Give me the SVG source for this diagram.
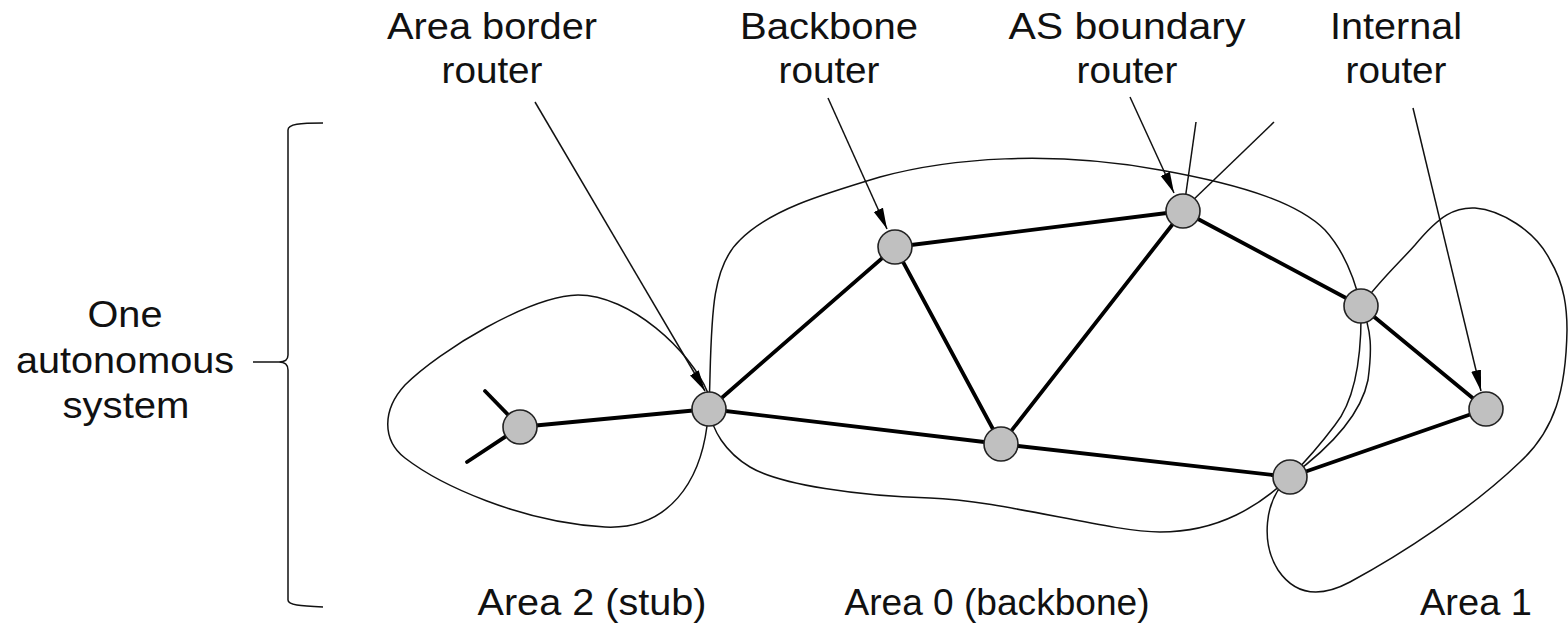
<svg xmlns="http://www.w3.org/2000/svg" width="1568" height="626" viewBox="0 0 1568 626">
<style>
.lbl{font-family:"Liberation Sans",Arial,Helvetica,sans-serif;font-size:37px;fill:#111;text-anchor:middle}
.area{fill:none;stroke:#111;stroke-width:1.5}
.edge{stroke:#000;stroke-width:3.8;stroke-linecap:round;fill:none}
.thin{stroke:#111;stroke-width:1.5;fill:none}
.arrow{stroke:#111;stroke-width:1.5;fill:none;marker-end:url(#ah)}
.node{fill:#c0c0c0;stroke:#222;stroke-width:1.6}
</style>
<defs>
<marker id="ah" markerUnits="userSpaceOnUse" markerWidth="24" markerHeight="14" refX="21" refY="7" orient="auto">
<path d="M0,2 L21,7 L0,12 z" fill="#000"/>
</marker>
</defs>
<rect width="1568" height="626" fill="#fff"/>

<g id="areas">
<path id="area2" class="area" d="M708,393 C690,350 630,295 578,295 C530,296 440,350 405,385 C382,410 382,440 405,458 C440,485 520,522 605,527 C670,530 700,480 707,426"/>
<path id="area0" class="area" d="M709,409 C712,330 708,270 740,240 C770,210 820,195 880,177 C950,158 1050,150 1160,170 C1250,186 1300,205 1325,230 C1345,252 1355,280 1361,306 C1362,360 1355,400 1335,425 C1320,445 1305,462 1290,477 C1260,505 1220,532 1160,532 C1110,532 1000,500 930,498 C860,496 780,485 750,467 C725,452 712,430 709,409 Z"/>
<path id="area1" class="area" d="M1361,306 C1380,280 1400,262 1415,245 C1440,215 1455,207 1475,208 C1500,210 1535,230 1550,260 C1565,285 1567,310 1567,330 C1566,390 1555,430 1520,462 C1470,510 1400,555 1350,582 C1320,598 1295,595 1278,570 C1262,545 1262,500 1290,477 C1320,455 1360,420 1368,380 C1372,350 1372,330 1361,306 Z"/>
</g>

<g id="connectors">
<line class="edge" x1="485" y1="391" x2="520" y2="427"/>
<line class="edge" x1="467" y1="462" x2="520" y2="427"/>
<line class="edge" x1="520" y1="427" x2="709" y2="409"/>
<line class="edge" x1="709" y1="409" x2="895" y2="247"/>
<line class="edge" x1="709" y1="409" x2="1001" y2="444"/>
<line class="edge" x1="895" y1="247" x2="1183" y2="211"/>
<line class="edge" x1="895" y1="247" x2="1001" y2="444"/>
<line class="edge" x1="1001" y1="444" x2="1183" y2="211"/>
<line class="edge" x1="1001" y1="444" x2="1290" y2="477"/>
<line class="edge" x1="1183" y1="211" x2="1361" y2="306"/>
<line class="edge" x1="1361" y1="306" x2="1486" y2="409"/>
<line class="edge" x1="1486" y1="409" x2="1290" y2="477"/>
<line class="thin" x1="1185" y1="200" x2="1196" y2="122"/>
<line class="thin" x1="1190" y1="203" x2="1274" y2="122"/>
<line class="arrow" x1="535" y1="102" x2="705" y2="391"/>
<line class="arrow" x1="828" y1="98" x2="887" y2="229"/>
<line class="arrow" x1="1130" y1="97" x2="1174" y2="193"/>
<line class="arrow" x1="1413" y1="108" x2="1481" y2="391"/>
</g>

<g id="n1"><circle class="node" cx="520" cy="427" r="17"/></g>
<g id="n2"><circle class="node" cx="709" cy="409" r="17"/></g>
<g id="n3"><circle class="node" cx="895" cy="247" r="17"/></g>
<g id="n4"><circle class="node" cx="1183" cy="211" r="17"/></g>
<g id="n5"><circle class="node" cx="1361" cy="306" r="17"/></g>
<g id="n6"><circle class="node" cx="1486" cy="409" r="17"/></g>
<g id="n7"><circle class="node" cx="1001" cy="444" r="17"/></g>
<g id="n8"><circle class="node" cx="1290" cy="477" r="17"/></g>

<g id="brace">
<path class="thin" d="M323,123 C300,123 288,124 288,130 L288,355 C288,360 284,362 279,362 C284,362 288,364 288,370 L288,600 C288,605 300,606 323,607"/>
<line class="thin" x1="253" y1="362" x2="279" y2="362"/>
</g>

<g id="labels">
<text class="lbl" x="492" y="39" textLength="210" lengthAdjust="spacingAndGlyphs">Area border</text>
<text class="lbl" x="492" y="83" textLength="101" lengthAdjust="spacingAndGlyphs">router</text>
<text class="lbl" x="829" y="39" textLength="178" lengthAdjust="spacingAndGlyphs">Backbone</text>
<text class="lbl" x="829" y="83" textLength="101" lengthAdjust="spacingAndGlyphs">router</text>
<text class="lbl" x="1127" y="39" textLength="237" lengthAdjust="spacingAndGlyphs">AS boundary</text>
<text class="lbl" x="1127" y="83" textLength="101" lengthAdjust="spacingAndGlyphs">router</text>
<text class="lbl" x="1396" y="39" textLength="132" lengthAdjust="spacingAndGlyphs">Internal</text>
<text class="lbl" x="1396" y="83" textLength="101" lengthAdjust="spacingAndGlyphs">router</text>
<text class="lbl" x="125" y="327" textLength="75" lengthAdjust="spacingAndGlyphs">One</text>
<text class="lbl" x="125" y="373" textLength="218" lengthAdjust="spacingAndGlyphs">autonomous</text>
<text class="lbl" x="126" y="418" textLength="127" lengthAdjust="spacingAndGlyphs">system</text>
<text class="lbl" x="592" y="615" textLength="229" lengthAdjust="spacingAndGlyphs">Area 2 (stub)</text>
<text class="lbl" x="997" y="615" textLength="305" lengthAdjust="spacingAndGlyphs">Area 0 (backbone)</text>
<text class="lbl" x="1476" y="615" textLength="112" lengthAdjust="spacingAndGlyphs">Area 1</text>
</g>
</svg>
